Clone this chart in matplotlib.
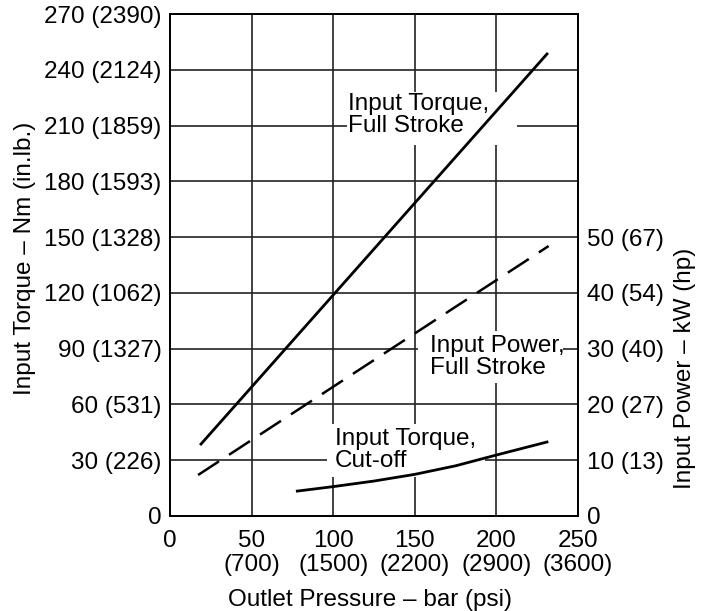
import numpy as np
import matplotlib
matplotlib.use("Agg")
from matplotlib import pyplot as plt
from matplotlib.patches import Rectangle

plt.rcParams['font.family'] = ['Liberation Sans', 'DejaVu Sans']
plt.rcParams['font.size'] = 17.5

# outlet pressure (bar) vs torque (Nm) / power (kW)
torque_full_x = [19, 231]
torque_full_y = [38.7, 248.5]

power_full_x = [17.2, 232]
power_full_y = [7.35, 48.4]

torque_cut_x = [78, 100, 125, 150, 175, 200, 231]
torque_cut_y = [13.4, 15.8, 18.8, 22.4, 27.0, 32.8, 39.8]

x_ticks = [0, 50, 100, 150, 200, 250]
x_labels = ["0", "50\n(700)", "100\n(1500)", "150\n(2200)", "200\n(2900)", "250\n(3600)"]
y_ticks = [0, 30, 60, 90, 120, 150, 180, 210, 240, 270]
y_labels = ["0", "30 (226)", "60 (531)", "90 (1327)", "120 (1062)", "150 (1328)",
            "180 (1593)", "210 (1859)", "240 (2124)", "270 (2390)"]
p_ticks = [0, 10, 20, 30, 40, 50]
p_labels = ["0", "10 (13)", "20 (27)", "30 (40)", "40 (54)", "50 (67)"]

fig = plt.figure(figsize=(7.11, 6.11), dpi=100)
ax = fig.add_axes([170/711, 1-516/611, 408/711, 502/611])
ax2 = ax.twinx()

ax.set_xlim(0, 250)
ax.set_ylim(0, 270)
ax2.set_ylim(0, 90)

ax.set_xticks(x_ticks)
ax.set_xticklabels(x_labels, linespacing=1.12)
ax.set_yticks(y_ticks)
ax.set_yticklabels(y_labels)
ax2.set_yticks(p_ticks)
ax2.set_yticklabels(p_labels)

ax.set_axisbelow(True)
ax.grid(True, color='#222222', lw=1.2)
ax.tick_params(axis='x', length=0, pad=10)
ax.tick_params(axis='y', length=0, pad=6)
ax2.tick_params(axis='y', length=0, pad=6.5)
for a in (ax, ax2):
    for s in a.spines.values():
        s.set_linewidth(1.3)

# white gaps in the grid behind the labels
gaps = [(108.5, 200.4, 199.6, 228), (200.6, 212.6, 205, 215),
        (152, 240.8, 71.5, 99.5), (96.2, 193, 21, 49.5)]
for x0, x1, y0, y1 in gaps:
    ax.add_patch(Rectangle((x0, y0), x1-x0, y1-y0, facecolor='white',
                           edgecolor='none', zorder=1))

ax.plot(torque_full_x, torque_full_y, color='black', lw=2.0, zorder=3)
ax.plot(torque_cut_x, torque_cut_y, color='black', lw=2.0, zorder=3)
ax2.plot(power_full_x, power_full_y, color='black', lw=1.8,
         linestyle=(0, (10, 4.8)))

ax.text(109, 215.5, "Input Torque,\nFull Stroke", va='center', ha='left',
        linespacing=1.0, zorder=4)
ax.text(159.3, 85.5, "Input Power,\nFull Stroke", va='center', ha='left',
        linespacing=1.0, zorder=4)
ax.text(101, 35.5, "Input Torque,\nCut-off", va='center', ha='left',
        linespacing=1.0, zorder=4)

ax.set_xlabel("Outlet Pressure \u2013 bar (psi)")
ax.xaxis.set_label_coords(0.49, -0.145)
ax.set_ylabel("Input Torque \u2013 Nm (in.lb.)")
ax.yaxis.set_label_coords(-0.328, 0.514)
ax2.set_ylabel("Input Power \u2013 kW (hp)")
ax2.yaxis.set_label_coords(1.235, 0.295)

fig.savefig("out.png", dpi=100)
